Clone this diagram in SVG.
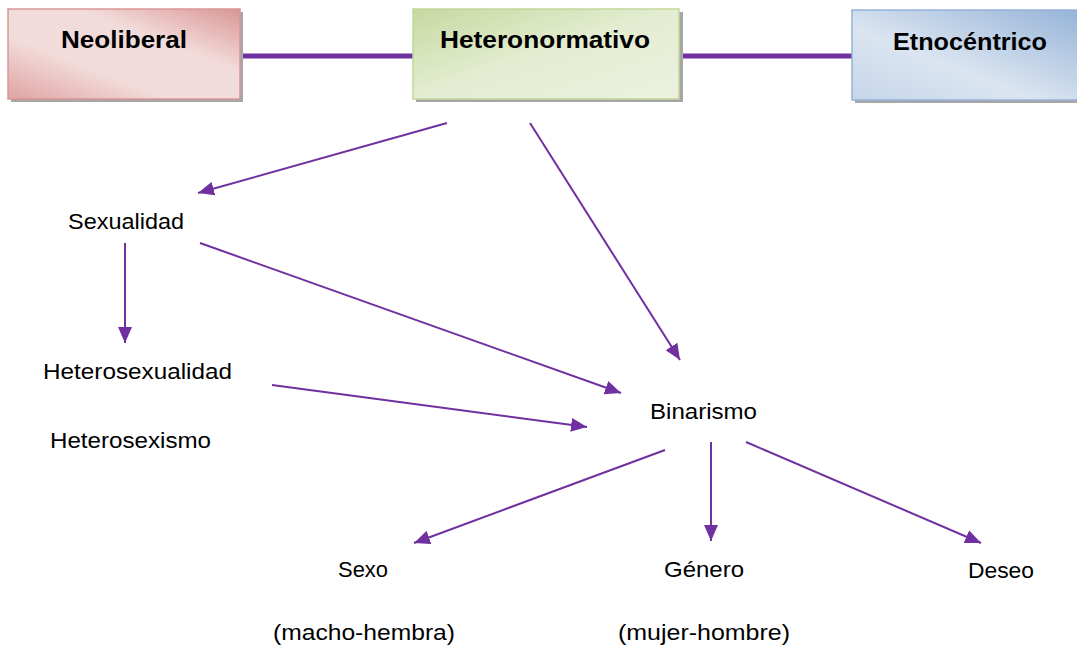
<svg xmlns="http://www.w3.org/2000/svg" width="1077" height="647" viewBox="0 0 1077 647">
<defs>
<linearGradient id="gPink" x1="0" y1="1" x2="1" y2="0">
<stop offset="0" stop-color="#dfa3a1"/>
<stop offset="0.35" stop-color="#f2dcdb"/>
<stop offset="0.65" stop-color="#f2dcdb"/>
<stop offset="1" stop-color="#d99694"/>
</linearGradient>
<linearGradient id="gGreen" x1="0" y1="0" x2="1" y2="1">
<stop offset="0" stop-color="#c6d9a0"/>
<stop offset="0.5" stop-color="#e4edd2"/>
<stop offset="1" stop-color="#ebf1de"/>
</linearGradient>
<linearGradient id="gBlue" x1="0" y1="1" x2="1" y2="0">
<stop offset="0" stop-color="#c5d5ea"/>
<stop offset="0.4" stop-color="#dbe5f1"/>
<stop offset="1" stop-color="#95b3d7"/>
</linearGradient>
<marker id="ah" markerUnits="userSpaceOnUse" markerWidth="18" markerHeight="14" refX="16" refY="7" orient="auto">
<path d="M0,0 L16,7 L0,14 z" fill="#7030a0"/>
</marker>
<style>
.shadow{fill:#a6a6a6;}
.title{font-family:"Liberation Sans",Arial,sans-serif;font-weight:bold;font-size:24px;fill:#000;}
.lbl{font-family:"Liberation Sans",Arial,sans-serif;font-size:22px;fill:#000;}
.thick{stroke:#7030a0;stroke-width:5;fill:none;}
.arr{stroke:#7030a0;stroke-width:2;fill:none;marker-end:url(#ah);}
</style>
</defs>
<rect width="1077" height="647" fill="#fff"/>
<g id="connectors">
<line class="thick" x1="240" y1="56" x2="413" y2="56"/>
<line class="thick" x1="679" y1="56" x2="852" y2="56"/>
<line class="arr" x1="447" y1="123" x2="198" y2="193"/>
<line class="arr" x1="530" y1="123" x2="680" y2="360"/>
<line class="arr" x1="125" y1="243" x2="125" y2="343"/>
<line class="arr" x1="200" y1="243" x2="621" y2="393"/>
<line class="arr" x1="272" y1="385" x2="587" y2="427"/>
<line class="arr" x1="665" y1="450" x2="414" y2="543"/>
<line class="arr" x1="711" y1="442" x2="711" y2="541"/>
<line class="arr" x1="746" y1="442" x2="981" y2="543"/>
</g>
<g id="node-neoliberal">
<rect class="shadow" x="11" y="12" width="232" height="90"/>
<rect x="8" y="9" width="232" height="90" fill="url(#gPink)" stroke="#d99694" stroke-width="1.5"/>
<text class="title" x="61" y="48" textLength="126" lengthAdjust="spacingAndGlyphs">Neoliberal</text>
</g>
<g id="node-heteronormativo">
<rect class="shadow" x="416" y="12" width="267" height="90"/>
<rect x="413" y="9" width="266" height="90" fill="url(#gGreen)" stroke="#c3d69b" stroke-width="1.5"/>
<text class="title" x="440" y="48" textLength="210" lengthAdjust="spacingAndGlyphs">Heteronormativo</text>
</g>
<g id="node-etnocentrico">
<rect class="shadow" x="855" y="13" width="230" height="90"/>
<rect x="852" y="10" width="230" height="90" fill="url(#gBlue)" stroke="#95b3d7" stroke-width="1.5"/>
<text class="title" x="893" y="50" textLength="154" lengthAdjust="spacingAndGlyphs">Etnocéntrico</text>
</g>
<g id="node-sexualidad"><text class="lbl" x="68" y="229" textLength="116" lengthAdjust="spacingAndGlyphs">Sexualidad</text></g>
<g id="node-heterosexualidad"><text class="lbl" x="43" y="379" textLength="189" lengthAdjust="spacingAndGlyphs">Heterosexualidad</text></g>
<g id="node-heterosexismo"><text class="lbl" x="50" y="448" textLength="161" lengthAdjust="spacingAndGlyphs">Heterosexismo</text></g>
<g id="node-binarismo"><text class="lbl" x="650" y="419" textLength="107" lengthAdjust="spacingAndGlyphs">Binarismo</text></g>
<g id="node-sexo">
<text class="lbl" x="338" y="577" textLength="50" lengthAdjust="spacingAndGlyphs">Sexo</text>
<text class="lbl" x="273" y="640" textLength="182" lengthAdjust="spacingAndGlyphs">(macho-hembra)</text>
</g>
<g id="node-genero">
<text class="lbl" x="664" y="577" textLength="80" lengthAdjust="spacingAndGlyphs">Género</text>
<text class="lbl" x="618" y="640" textLength="172" lengthAdjust="spacingAndGlyphs">(mujer-hombre)</text>
</g>
<g id="node-deseo"><text class="lbl" x="968" y="578" textLength="66" lengthAdjust="spacingAndGlyphs">Deseo</text></g>
</svg>
